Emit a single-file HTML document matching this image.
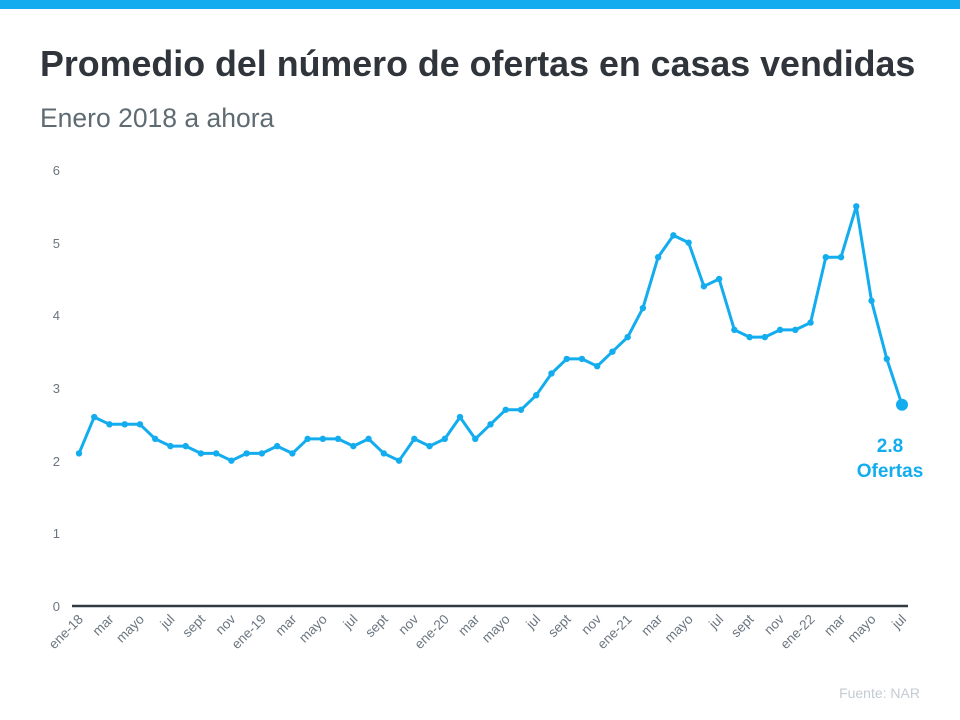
<!DOCTYPE html>
<html><head><meta charset="utf-8"><style>
body{margin:0;background:#fff;}
svg{display:block;font-family:"Liberation Sans",sans-serif;}
</style></head><body>
<svg width="960" height="720" viewBox="0 0 960 720">
<rect x="0" y="0" width="960" height="9" fill="#13adef"/>
<text x="40" y="76" font-size="35.8" font-weight="bold" fill="#2f353b">Promedio del número de ofertas en casas vendidas</text>
<text x="40" y="127" font-size="26.5" fill="#5f6b73">Enero 2018 a ahora</text>
<g font-size="13" fill="#6b7580" text-anchor="end">
<text x="60" y="175">6</text><text x="60" y="248">5</text><text x="60" y="320">4</text>
<text x="60" y="393">3</text><text x="60" y="466">2</text><text x="60" y="538">1</text><text x="60" y="611">0</text>
</g>
<line x1="72" y1="606" x2="908" y2="606" stroke="#333b42" stroke-width="2.5"/>
<g id="lbl" font-size="13.5" fill="#6b7580" text-anchor="end"></g>
<polyline id="ln" fill="none" stroke="#13adef" stroke-width="3" stroke-linejoin="round"/>
<g id="pts" fill="#13adef"></g>
<text x="890" y="452" font-size="19" font-weight="bold" fill="#13adef" text-anchor="middle">2.8</text>
<text x="890" y="477" font-size="19" font-weight="bold" fill="#13adef" text-anchor="middle">Ofertas</text>
<text x="920" y="698" font-size="14" fill="#c4cbd1" text-anchor="end">Fuente:  NAR</text>
</svg>
<script>
var d=[2.1,2.6,2.5,2.5,2.5,2.3,2.2,2.2,2.1,2.1,2.0,2.1,2.1,2.2,2.1,2.3,2.3,2.3,2.2,2.3,2.1,2.0,2.3,2.2,2.3,2.6,2.3,2.5,2.7,2.7,2.9,3.2,3.4,3.4,3.3,3.5,3.7,4.1,4.8,5.1,5.0,4.4,4.5,3.8,3.7,3.7,3.8,3.8,3.9,4.8,4.8,5.5,4.2,3.4,2.77];
var ns="http://www.w3.org/2000/svg",p=[],pts=document.getElementById('pts'),lb=document.getElementById('lbl');
var names=["ene","mar","mayo","jul","sept","nov"];
d.forEach(function(v,i){var x=79+i*823/54,y=606-v*72.67;p.push(x.toFixed(1)+","+y.toFixed(1));
var c=document.createElementNS(ns,'circle');c.setAttribute('cx',x);c.setAttribute('cy',y);c.setAttribute('r',i==54?6:3.2);pts.appendChild(c);
if(i%2==0){var t=document.createElementNS(ns,'text');var m=i%12/2;t.textContent=m==0?"ene-"+(18+i/12):names[m];
var ax=x+5,ay=620;t.setAttribute('x',ax);t.setAttribute('y',ay);t.setAttribute('transform','rotate(-45 '+ax+' '+ay+')');lb.appendChild(t);}});
document.getElementById('ln').setAttribute('points',p.join(' '));
</script>
</body></html>
